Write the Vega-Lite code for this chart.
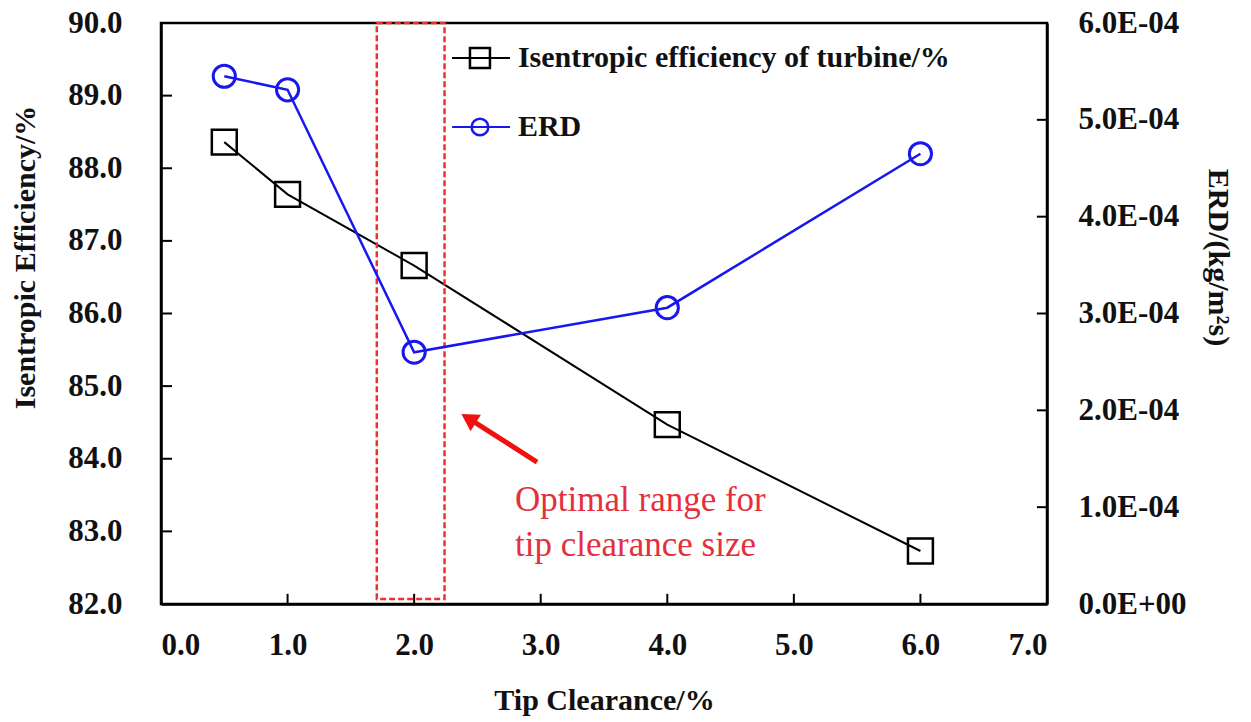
{
  "$schema": "https://vega.github.io/schema/vega-lite/v6.json",
  "width": 886,
  "height": 581,
  "autosize": "none",
  "padding": {"left": 161, "top": 23, "right": 204, "bottom": 118},
  "background": "white",
  "config": {
    "view": {"stroke": "#000", "strokeWidth": 2.5},
    "font": "Liberation Serif",
    "axis": {
      "grid": false,
      "domainColor": "#000",
      "domainWidth": 2.5,
      "ticks": false,
      "labelFont": "Liberation Serif",
      "labelFontWeight": "bold",
      "labelFontSize": 31,
      "labelColor": "#111",
      "titleFont": "Liberation Serif",
      "titleFontWeight": "bold",
      "titleFontSize": 30,
      "titleColor": "#111"
    }
  },
  "datasets": {
    "series": [
      {"tc": 0.5, "eff": 88.36, "erd": 0.000545},
      {"tc": 1.0, "eff": 87.64, "erd": 0.000531},
      {"tc": 2.0, "eff": 86.66, "erd": 0.000260},
      {"tc": 4.0, "eff": 84.47, "erd": 0.000306},
      {"tc": 6.0, "eff": 82.73, "erd": 0.000465}
    ],
    "xticks": [{"v": 1}, {"v": 2}, {"v": 3}, {"v": 4}, {"v": 5}, {"v": 6}],
    "yticks": [{"v": 83}, {"v": 84}, {"v": 85}, {"v": 86}, {"v": 87}, {"v": 88}, {"v": 89}],
    "rticks": [{"v": 0.0001}, {"v": 0.0002}, {"v": 0.0003}, {"v": 0.0004}, {"v": 0.0005}],
    "legend": [
      {"key": "eff", "x1": 2.30, "x2": 2.757, "xm": 2.52, "xt": 2.82, "y": 89.518, "label": "Isentropic efficiency of turbine/%"},
      {"key": "erd", "x1": 2.30, "x2": 2.757, "xm": 2.52, "xt": 2.82, "y": 88.568, "label": "ERD"}
    ],
    "box": [{"x1": 1.705, "x2": 2.24, "y1": 82.07, "y2": 90}],
    "note": [
      {"x": 2.797, "y": 83.432, "text": "Optimal range for"},
      {"x": 2.797, "y": 82.81, "text": "tip clearance size"}
    ],
    "arrow": [{"x1": 2.971, "y1": 83.955, "x2": 2.43, "y2": 84.555}]
  },
  "layer": [
    {
      "layer": [
        {
          "data": {"name": "series"},
          "mark": {"type": "line", "color": "#000", "strokeWidth": 2},
          "encoding": {
            "x": {
              "field": "tc", "type": "quantitative",
              "scale": {"domain": [0, 7], "nice": false, "zero": false},
              "axis": {
                "title": "Tip Clearance/%",
                "values": [0, 1, 2, 3, 4, 5, 6, 7],
                "format": ".1f",
                "labelPadding": 26,
                "labelBaseline": "top",
                "titleY": 105,
                "titleBaseline": "alphabetic"
              }
            },
            "y": {
              "field": "eff", "type": "quantitative",
              "scale": {"domain": [82, 90], "nice": false, "zero": false},
              "axis": {
                "title": "Isentropic Efficiency/%",
                "orient": "left",
                "values": [82, 83, 84, 85, 86, 87, 88, 89, 90],
                "format": ".1f",
                "labelPadding": 39,
                "titleX": -136,
                "titleY": 234,
                "titleBaseline": "middle"
              }
            }
          }
        },
        {
          "data": {"name": "xticks"},
          "mark": {"type": "rule", "color": "#000", "strokeWidth": 2},
          "encoding": {
            "x": {"field": "v", "type": "quantitative", "scale": {"domain": [0, 7], "nice": false, "zero": false}},
            "y": {"datum": 82, "type": "quantitative", "scale": {"domain": [82, 90], "nice": false, "zero": false}},
            "y2": {"datum": 82.14}
          }
        },
        {
          "data": {"name": "yticks"},
          "mark": {"type": "rule", "color": "#000", "strokeWidth": 2},
          "encoding": {
            "y": {"field": "v", "type": "quantitative", "scale": {"domain": [82, 90], "nice": false, "zero": false}},
            "x": {"datum": 0, "type": "quantitative", "scale": {"domain": [0, 7], "nice": false, "zero": false}},
            "x2": {"datum": 0.087}
          }
        },
        {
          "data": {"name": "box"},
          "mark": {"type": "rect", "fill": null, "stroke": "#f03030", "strokeWidth": 2.5, "strokeDash": [6, 3]},
          "encoding": {
            "x": {"field": "x1", "type": "quantitative", "scale": {"domain": [0, 7], "nice": false, "zero": false}},
            "x2": {"field": "x2"},
            "y": {"field": "y1", "type": "quantitative", "scale": {"domain": [82, 90], "nice": false, "zero": false}},
            "y2": {"field": "y2"}
          }
        },
        {
          "data": {"name": "series"},
          "mark": {"type": "point", "shape": "square", "size": 620, "filled": false, "stroke": "#000", "strokeWidth": 2.5, "opacity": 1},
          "encoding": {
            "x": {"field": "tc", "type": "quantitative", "scale": {"domain": [0, 7], "nice": false, "zero": false}},
            "y": {"field": "eff", "type": "quantitative", "scale": {"domain": [82, 90], "nice": false, "zero": false}}
          }
        },
        {
          "data": {"name": "legend"},
          "mark": {"type": "rule", "strokeWidth": 2},
          "encoding": {
            "x": {"field": "x1", "type": "quantitative", "scale": {"domain": [0, 7], "nice": false, "zero": false}},
            "x2": {"field": "x2"},
            "y": {"field": "y", "type": "quantitative", "scale": {"domain": [82, 90], "nice": false, "zero": false}},
            "color": {"field": "key", "type": "nominal", "scale": {"domain": ["eff", "erd"], "range": ["#000000", "#1818ee"]}, "legend": null}
          }
        },
        {
          "data": {"name": "legend"},
          "mark": {"type": "point", "filled": false, "strokeWidth": 2.5, "opacity": 1},
          "encoding": {
            "x": {"field": "xm", "type": "quantitative", "scale": {"domain": [0, 7], "nice": false, "zero": false}},
            "y": {"field": "y", "type": "quantitative", "scale": {"domain": [82, 90], "nice": false, "zero": false}},
            "color": {"field": "key", "type": "nominal", "scale": {"domain": ["eff", "erd"], "range": ["#000000", "#1818ee"]}, "legend": null},
            "shape": {"field": "key", "type": "nominal", "scale": {"domain": ["eff", "erd"], "range": ["square", "circle"]}, "legend": null},
            "size": {"field": "key", "type": "nominal", "scale": {"domain": ["eff", "erd"], "range": [400, 280]}, "legend": null}
          }
        },
        {
          "data": {"name": "legend"},
          "mark": {"type": "text", "align": "left", "baseline": "middle", "font": "Liberation Serif", "fontWeight": "bold", "fontSize": 30, "color": "#111"},
          "encoding": {
            "x": {"field": "xt", "type": "quantitative", "scale": {"domain": [0, 7], "nice": false, "zero": false}},
            "y": {"field": "y", "type": "quantitative", "scale": {"domain": [82, 90], "nice": false, "zero": false}},
            "text": {"field": "label"}
          }
        },
        {
          "data": {"name": "note"},
          "mark": {"type": "text", "align": "left", "baseline": "middle", "font": "Liberation Serif", "fontSize": 35, "color": "#e3303c"},
          "encoding": {
            "x": {"field": "x", "type": "quantitative", "scale": {"domain": [0, 7], "nice": false, "zero": false}},
            "y": {"field": "y", "type": "quantitative", "scale": {"domain": [82, 90], "nice": false, "zero": false}},
            "text": {"field": "text"}
          }
        },
        {
          "data": {"name": "arrow"},
          "mark": {"type": "rule", "color": "#f01010", "strokeWidth": 5},
          "encoding": {
            "x": {"field": "x1", "type": "quantitative", "scale": {"domain": [0, 7], "nice": false, "zero": false}},
            "x2": {"field": "x2"},
            "y": {"field": "y1", "type": "quantitative", "scale": {"domain": [82, 90], "nice": false, "zero": false}},
            "y2": {"field": "y2"}
          }
        },
        {
          "data": {"name": "arrow"},
          "mark": {"type": "point", "shape": "triangle-up", "filled": true, "color": "#f01010", "size": 380, "angle": 302, "opacity": 1},
          "encoding": {
            "x": {"field": "x2", "type": "quantitative", "scale": {"domain": [0, 7], "nice": false, "zero": false}},
            "y": {"field": "y2", "type": "quantitative", "scale": {"domain": [82, 90], "nice": false, "zero": false}}
          }
        }
      ]
    },
    {
      "layer": [
        {
          "data": {"name": "series"},
          "mark": {"type": "line", "color": "#1818ee", "strokeWidth": 2.5},
          "encoding": {
            "x": {"field": "tc", "type": "quantitative", "scale": {"domain": [0, 7], "nice": false, "zero": false}},
            "y": {
              "field": "erd", "type": "quantitative",
              "scale": {"domain": [0, 0.0006], "nice": false, "zero": false},
              "axis": {
                "title": "ERD/(kg/m²s)",
                "orient": "right",
                "values": [0, 0.0001, 0.0002, 0.0003, 0.0004, 0.0005, 0.0006],
                "labelExpr": "datum.value == 0 ? '0.0E+00' : format(datum.value * 10000, '.1f') + 'E-04'",
                "labelPadding": 31,
                "titleX": 170,
                "titleY": 234,
                "titleBaseline": "middle"
              }
            }
          }
        },
        {
          "data": {"name": "rticks"},
          "mark": {"type": "rule", "color": "#000", "strokeWidth": 2},
          "encoding": {
            "y": {"field": "v", "type": "quantitative", "scale": {"domain": [0, 0.0006], "nice": false, "zero": false}},
            "x": {"datum": 6.92, "type": "quantitative", "scale": {"domain": [0, 7], "nice": false, "zero": false}},
            "x2": {"datum": 7}
          }
        },
        {
          "data": {"name": "series"},
          "mark": {"type": "point", "shape": "circle", "size": 490, "filled": false, "stroke": "#1818ee", "strokeWidth": 3, "opacity": 1},
          "encoding": {
            "x": {"field": "tc", "type": "quantitative", "scale": {"domain": [0, 7], "nice": false, "zero": false}},
            "y": {"field": "erd", "type": "quantitative", "scale": {"domain": [0, 0.0006], "nice": false, "zero": false}}
          }
        }
      ]
    }
  ],
  "resolve": {"scale": {"y": "independent"}}
}
